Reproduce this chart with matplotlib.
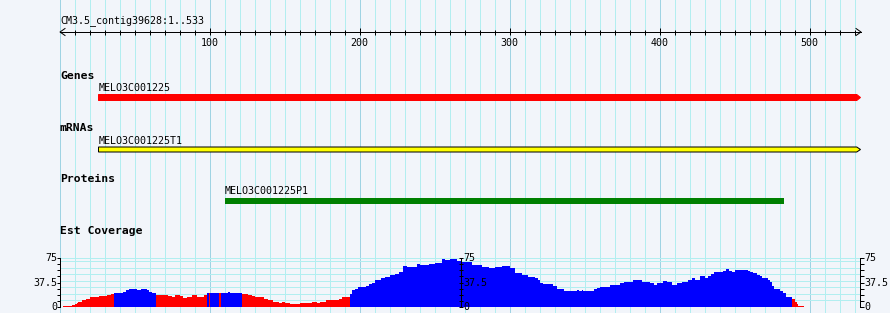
import numpy as np
import matplotlib
matplotlib.use("Agg")
import matplotlib.pyplot as plt
from matplotlib.patches import Polygon, Rectangle

# ---- data (positions in bp) ----
contig_label = "CM3.5_contig39628:1..533"
contig_len = 533
ruler_labels = [100, 200, 300, 400, 500]

gene_name = "MELO3C001225"
gene_span = (26, 534)
mrna_name = "MELO3C001225T1"
mrna_span = (26, 534)
protein_name = "MELO3C001225P1"
protein_span = (110.3, 483)

track_titles = ["Genes", "mRNAs", "Proteins", "Est Coverage"]

# EST coverage, run-length: segment start, depth, colour flag (B=blue, R=red)
cov_start = [2, 8, 10, 11.5, 12.5, 15, 17.5, 19, 20.5, 26, 31.5, 34,
             36.5, 42.5, 44, 46, 51.5, 54.5, 58, 59.5, 61.5,
             64.5, 72.5, 75, 77, 80.5, 82.5, 85, 88, 91.5, 96,
             98, 99.5, 100.5, 106, 107.5, 112, 113.5,
             121.5, 123, 125.5, 128, 130.5, 136, 139, 142.5, 146.5, 148, 150.5,
             153.5, 160.5, 168, 171.5, 173.5, 177.5, 186, 188,
             193.5, 195, 197, 199, 204, 206.5, 208, 210, 214.5, 217, 220.5, 223.5,
             226, 229, 231.5, 238, 240.5, 246, 250.5, 255, 257, 260.5, 265, 268,
             275, 281.5, 286, 290.5, 295, 300.5, 303.5, 308, 312.5, 317, 319,
             320.5, 322, 329, 331.5, 336.5, 345, 346.5, 348, 349, 356, 358, 360.5,
             367, 373.5, 376, 378, 382.5, 388, 393.5, 396, 398, 402.5, 405, 408,
             411.5, 415, 419, 421.5, 423.5, 425, 427, 430, 432.5, 434.5, 436.5,
             442.5, 444, 446, 448, 450, 452.5, 459, 460.5, 462.5, 465, 467, 468,
             472, 473.5, 475, 476.5, 480.5, 482.5,
             484, 488, 490, 491.5, 492.5]
cov_value = [1.5, 3, 5, 6.5, 8, 10, 11.5, 13, 15, 17, 18, 20,
             22, 23.5, 25.5, 27.5, 26.5, 27.5, 26, 23.5, 22,
             19, 17, 16, 18, 16.5, 14.5, 16, 18, 16, 18,
             22, 22, 22, 22, 22, 23, 22,
             19.5, 20.5, 19, 17.5, 15.5, 13, 10.5, 8, 5.5, 7, 6.5,
             5, 6.5, 8, 6.5, 8, 10.5, 13, 15,
             20, 25.5, 28, 31, 32.5, 34.5, 37, 41, 45, 46.5, 48.5, 50.5,
             53, 62, 61, 65.5, 64, 66, 68, 74, 72, 73, 71, 69.5,
             64, 61, 59.5, 60.5, 62.5, 59, 51.5, 49, 46.5, 44, 41.5,
             37, 34.5, 32, 27.5, 25, 26.5, 25, 26.5, 25, 28, 29.5, 31,
             34, 36, 38, 38.5, 41.5, 39, 36, 33.5, 37, 40, 38, 34,
             37, 39, 41.5, 44, 42, 41.5, 47.5, 45, 47.5, 50.5, 53.5,
             55.5, 57.5, 55, 53.5, 56, 57, 55, 53.5, 51.5, 49.5, 47.5, 45,
             41.5, 38, 32.5, 27.5, 25, 22,
             16, 12, 8, 4, 2]
cov_flag = ("RRRRRRRRRRRR"
            "BBBBBBBBB"
            "RRRRRRRRRR"
            "BRBRBBB"
            "RRRRRRRRRRR"
            "RRRRRRRR"
            "BBBBBBBBBBBB"
            "BBBBBBBBBBBB"
            "BBBBBBBBBBBB"
            "BBBBBBBBBBBB"
            "BBBBBBBBBBBB"
            "BBBBBBBBBBB"
            "BBBBBBBBBBBB"
            "BBBBBB"
            "RRRRR")
cov_end = 496
cov_max = 75

# ---- layout (pixels) ----
W, H = 890, 313
bg = "#f2f5fa"
mono = "DejaVu Sans Mono"
small = 7.2
bold = 8.2
px = 0.72  # 1 pixel in points


def to_bp(x):
    return (x - 59.5) / 1.5


fig = plt.figure(figsize=(W / 100, H / 100), dpi=100, facecolor=bg)
ax = fig.add_axes([0, 0, 1, 1])
ax.set_xlim(to_bp(0), to_bp(W))
ax.set_ylim(H, 0)
ax.set_facecolor(bg)
ax.axis("off")

# vertical grid
for p in range(0, 531, 10):
    ax.axvline(p, color="#9fd3e3" if p % 100 == 0 else "#b2eef0", lw=px, zorder=0)

# ruler
ax.text(to_bp(60), 21, contig_label, family=mono, fontsize=small, va="center", ha="left")
ax.plot([to_bp(60), to_bp(861)], [32, 32], color="black", lw=px)
ax.plot([to_bp(65), to_bp(60), to_bp(65)], [28.5, 32, 35.5], color="black", lw=px)
ax.plot([to_bp(856), to_bp(861), to_bp(856)], [28.5, 32, 35.5], color="black", lw=px)
minor = [p for p in range(10, 531, 10) if p % 100]
ax.vlines(minor, 30, 34.5, color="black", lw=px)
ax.vlines(ruler_labels, 27.5, 34.5, color="black", lw=px)
for p in ruler_labels:
    ax.text(p, 42.5, str(p), family=mono, fontsize=small, ha="center", va="center")

# track titles
for t, y in zip(track_titles, [76, 128, 179, 231]):
    ax.text(to_bp(60), y, t, family=mono, fontsize=bold, weight="bold", va="center", ha="left")


def arrow_bar(span, top, bot, face, edge):
    s, e = span
    tip = 2.5
    mid = (top + bot) / 2
    pts = [(s, top), (e - tip, top), (e, mid), (e - tip, bot), (s, bot)]
    ax.add_patch(Polygon(pts, closed=True, facecolor=face, edgecolor=edge,
                         lw=px, zorder=3))


# genes
ax.text(gene_span[0], 88, gene_name, family=mono, fontsize=small, va="center")
arrow_bar(gene_span, 94.5, 100.5, "#ff0000", "#ff0000")
# mRNAs
ax.text(mrna_span[0], 140.5, mrna_name, family=mono, fontsize=small, va="center")
arrow_bar(mrna_span, 147, 152, "#ffff00", "black")
# proteins
ax.text(protein_span[0], 191, protein_name, family=mono, fontsize=small, va="center")
ax.add_patch(Rectangle((protein_span[0], 198.3), protein_span[1] - protein_span[0], 5.4,
                       facecolor="#008000", edgecolor="none", zorder=3))

# ---- coverage ----
y0, y1 = 307, 258
cax = fig.add_axes([0, (H - y0) / H, 1, (y0 - y1) / H])
cax.set_xlim(to_bp(0), to_bp(W))
cax.set_ylim(0, cov_max)
cax.patch.set_alpha(0)
cax.axis("off")

for v in [0, 10, 20, 30, 40, 50, 60, 70, 75]:
    cax.plot([to_bp(60), to_bp(860)], [v, v], color="#b2eef0", lw=px, zorder=0)

edges = cov_start + [cov_end]
widths = np.diff(edges)
colors = ["#0000ff" if f == "B" else "#ff0000" for f in cov_flag]
cax.bar(cov_start, cov_value, width=widths, align="edge", color=colors,
        linewidth=0, zorder=2)

ticks = np.linspace(0, cov_max, 9)
for xa, t0, t1, lab_x, ha in [(to_bp(60), to_bp(57), to_bp(60), to_bp(57.5), "right"),
                              (to_bp(461), to_bp(458.5), to_bp(462.5), to_bp(463.5), "left"),
                              (to_bp(860), to_bp(860), to_bp(864), to_bp(864.5), "left")]:
    cax.plot([xa, xa], [0, cov_max], color="black", lw=px, zorder=4, clip_on=False)
    cax.hlines(ticks, t0, t1, color="black", lw=px, zorder=4, clip_on=False)
    for v, lab in [(cov_max, "75"), (cov_max / 2, "37.5"), (0, "0")]:
        cax.text(lab_x, v, lab, family=mono, fontsize=small, ha=ha, va="center",
                 zorder=5, clip_on=False)

fig.savefig("out.png", dpi=100, facecolor=bg)
